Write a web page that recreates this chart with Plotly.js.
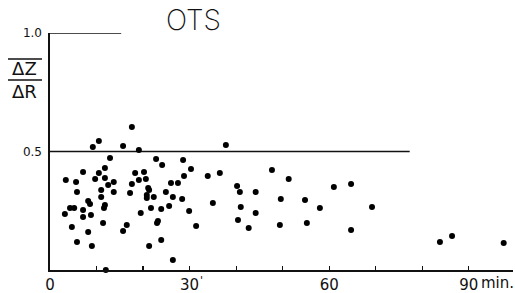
<!DOCTYPE html>
<html>
<head>
<meta charset="utf-8">
<script src="https://cdn.plot.ly/plotly-3.0.1.min.js"></script>
<style>html,body{margin:0;padding:0;background:#fff;}#chart{width:515px;height:293px;}</style>
</head>
<body>
<div id="chart"></div>
<script>
// Time (minutes) and ΔZ/ΔR values
const timeMin = [10.5, 9.2, 15.7, 19.1, 12.9, 22.8, 24.1, 17.6, 7.1, 10.5,
  11.8, 18.3, 20.2, 3.4, 5.6, 9.7, 11.8, 12.5, 13.7, 19.1,
  20.6, 26.0, 27.5, 17.6, 5.8, 11.0, 13.7, 17.2, 21.1, 21.3,
  24.9, 11.0, 20.8, 20.8, 22.3, 26.4, 8.2, 8.6, 4.3, 5.2,
  7.1, 11.8, 11.6, 3.2, 7.1, 8.8, 19.5, 21.7, 23.9, 25.6,
  11.4, 23.0, 23.2, 16.5, 4.7, 8.2, 15.7, 5.8, 23.9, 9.0,
  21.3, 26.4, 12.0, 28.6, 30.3, 28.8, 33.9, 36.5, 37.8, 28.4,
  29.9, 31.4, 35.0, 40.2, 40.8, 44.2, 41.0, 44.2, 40.4, 42.7,
  47.7, 51.3, 49.6, 49.4, 54.8, 55.2, 58.0, 61.0, 64.7, 69.2,
  64.7, 83.8, 86.4, 97.5];
const ratio = [0.544, 0.519, 0.523, 0.506, 0.473, 0.468, 0.443, 0.603, 0.414, 0.409,
  0.430, 0.409, 0.414, 0.380, 0.371, 0.384, 0.388, 0.359, 0.371, 0.380,
  0.384, 0.367, 0.367, 0.363, 0.329, 0.338, 0.329, 0.325, 0.346, 0.338,
  0.329, 0.308, 0.304, 0.316, 0.308, 0.308, 0.291, 0.278, 0.262, 0.262,
  0.253, 0.274, 0.262, 0.236, 0.224, 0.232, 0.241, 0.262, 0.257, 0.270,
  0.198, 0.198, 0.207, 0.190, 0.181, 0.160, 0.165, 0.118, 0.127, 0.101,
  0.101, 0.042, 0.000, 0.464, 0.426, 0.397, 0.397, 0.409, 0.527, 0.300,
  0.249, 0.186, 0.283, 0.354, 0.329, 0.329, 0.266, 0.241, 0.211, 0.177,
  0.422, 0.384, 0.300, 0.190, 0.295, 0.198, 0.262, 0.350, 0.363, 0.266,
  0.169, 0.118, 0.143, 0.114];

// Reference levels and how far (minutes) each line extends
const refLevels = [1.0, 0.5];
const refEnds = [15.3, 77.3];

// Axis ticks
const xTickVals = [0, 10, 20, 30, 40, 50, 60, 70, 80, 90];
const xTickText = ['0', '', '', '30', '', '', '60', '', '', '90'];
const yTickVals = [0.5, 1.0];
const yTickText = ['0.5', '1.0'];

const traces = [];
refLevels.forEach((lv, i) => {
  traces.push({x: [0, refEnds[i]], y: [lv, lv], mode: 'lines',
    line: {color: '#111', width: 1.6}, hoverinfo: 'skip', showlegend: false});
});
traces.push({x: timeMin, y: ratio, mode: 'markers', type: 'scatter',
  marker: {color: '#000', size: 6}, cliponaxis: false, showlegend: false});

const ink = '#111';
const layout = {
  width: 515, height: 293,
  margin: {l: 50, r: 2, t: 33, b: 23},
  paper_bgcolor: '#fff', plot_bgcolor: '#fff',
  showlegend: false,
  font: {family: 'DejaVu Sans, sans-serif', color: ink},
  xaxis: {range: [0, 99.5], showgrid: false, zeroline: false,
    showline: true, linecolor: ink, linewidth: 1.6,
    ticks: 'inside', ticklen: 4, tickwidth: 1.2, tickcolor: ink,
    tickvals: xTickVals, ticktext: xTickText,
    tickfont: {size: 15, family: 'DejaVu Sans, sans-serif', color: ink}},
  yaxis: {range: [0, 1.0], showgrid: false, zeroline: false,
    showline: true, linecolor: ink, linewidth: 1.6,
    ticks: '', tickvals: yTickVals, ticktext: yTickText,
    ticklabelstandoff: 4,
    tickfont: {size: 12, family: 'DejaVu Sans, sans-serif', color: ink}},
  annotations: [
    {text: 'OTS', xref: 'paper', yref: 'paper', x: 0.311, y: 1.055,
      xanchor: 'center', yanchor: 'middle', showarrow: false,
      font: {size: 28, family: 'Inter, Liberation Sans, sans-serif', weight: 200, color: ink}},
    {text: 'ΔZ<br>ΔR', xref: 'paper', yref: 'paper', x: -0.054, y: 0.80,
      xanchor: 'center', yanchor: 'middle', showarrow: false,
      font: {size: 18, color: ink}},
    {text: 'min.', xref: 'x', yref: 'paper', x: 90, y: 0, xshift: 10, yshift: -13,
      xanchor: 'left', yanchor: 'middle', showarrow: false,
      font: {size: 15, color: ink}},
    {text: "'", xref: 'x', yref: 'paper', x: 30, y: 0, xshift: 8, yshift: -10,
      xanchor: 'left', yanchor: 'middle', showarrow: false,
      font: {size: 11, color: ink}}
  ],
  shapes: [
    {type: 'line', xref: 'paper', yref: 'paper', x0: -0.0907, x1: -0.0173, y0: 0.89, y1: 0.89,
      line: {color: ink, width: 1.5}},
    {type: 'line', xref: 'paper', yref: 'paper', x0: -0.0907, x1: -0.0173, y0: 0.802, y1: 0.802,
      line: {color: ink, width: 1.5}}
  ]
};

Plotly.newPlot('chart', traces, layout, {displayModeBar: false, staticPlot: true});
</script>
</body>
</html>
